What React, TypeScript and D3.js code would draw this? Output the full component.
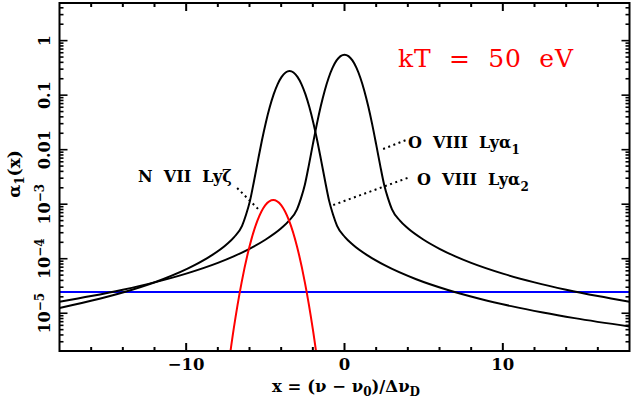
import React from "react";
import * as d3 from "d3";

// ---- data ----
const X_DOMAIN: [number, number] = [-18, 18];
const Y_DOMAIN: [number, number] = [2.03e-6, 4.9];

const xTickLabels = [-10, 0, 10];
const yDecadeValues = [1, 0.1, 0.01, 1e-3, 1e-4, 1e-5];
const yDecadeBase = ["1", "0.1", "0.01", "10", "10", "10"];
const yDecadeExp = ["", "", "", "−3", "−4", "−5"];

// O VIII Ly alpha 1
const lya1X = [-18, -16, -14, -12, -10, -8, -7, -6, -5, -4, -3.5, -3, -2.75, -2.5, -2.25, -2, -1.75, -1.5, -1.25, -1, -0.75, -0.5, -0.25, 0,
  0.25, 0.5, 0.75, 1, 1.25, 1.5, 1.75, 2, 2.25, 2.5, 2.75, 3, 3.5, 4, 5, 6, 7, 8, 10, 12, 14, 16, 18];
const lya1Y = [1.628e-5, 2.064e-5, 2.7e-5, 3.685e-5, 5.33e-5, 8.39e-5, 1.105e-4, 1.52e-4, 2.227e-4, 3.61e-4, 4.99e-4, 8.03e-4, 1.281e-3, 2.302e-3, 5.22e-3, 1.2489e-2, 2.9104e-2, 6.245e-2, 0.12076, 0.2084, 0.3192, 0.4333, 0.5208, 0.5537,
  0.5208, 0.4333, 0.3192, 0.2084, 0.12076, 6.245e-2, 2.9104e-2, 1.2489e-2, 5.22e-3, 2.302e-3, 1.281e-3, 8.03e-4, 4.99e-4, 3.61e-4, 2.227e-4, 1.52e-4, 1.105e-4, 8.39e-5, 5.33e-5, 3.685e-5, 2.7e-5, 2.064e-5, 1.628e-5];

// O VIII Ly alpha 2
const lya2X = [-18, -15.47, -13.47, -11.47, -9.47, -8.47, -7.47, -6.97, -6.47, -6.22, -5.97, -5.72, -5.47, -5.22, -4.97, -4.72, -4.47, -4.22, -3.97, -3.72, -3.47,
  -3.22, -2.97, -2.72, -2.47, -2.22, -1.97, -1.72, -1.47, -1.22, -0.97, -0.72, -0.47, 0.03, 0.53, 1.53, 2.53, 4.53, 6.53, 8.53, 10.53, 12.53, 14.53, 18];
const lya2Y = [1.253e-5, 1.843e-5, 2.665e-5, 4.195e-5, 7.6e-5, 1.114e-4, 1.805e-4, 2.495e-4, 4.015e-4, 6.405e-4, 1.151e-3, 2.61e-3, 6.245e-3, 1.4552e-2, 3.1225e-2, 6.038e-2, 0.1042, 0.1596, 0.21665, 0.2604, 0.27685,
  0.2604, 0.21665, 0.1596, 0.1042, 6.038e-2, 3.1225e-2, 1.4552e-2, 6.245e-3, 2.61e-3, 1.151e-3, 6.405e-4, 4.015e-4, 2.495e-4, 1.805e-4, 1.114e-4, 7.6e-5, 4.195e-5, 2.665e-5, 1.843e-5, 1.35e-5, 1.032e-5, 8.14e-6, 5.72e-6];

// N VII Ly zeta
const lyzX = [-7.5, -7, -6.5, -6, -5.5, -5, -4.5, -4, -3.5, -3, -2.5, -2, -1.5];
const lyzY = [4.6e-7, 5.11e-6, 3.65e-5, 1.682e-4, 5.01e-4, 9.65e-4, 1.2e-3, 9.65e-4, 5.01e-4, 1.682e-4, 3.65e-5, 5.11e-6, 4.6e-7];

// horizontal blue level
const levelX = [-18, 18];
const levelY = [2.45e-5, 2.45e-5];

// leader lines (data coords): [x0, y0, x1, y1]
const leaderLyz = [-6.78, 1.98e-3, -5.39, 7.83e-4];
const leaderLya1 = [2.44, 1.03e-2, 3.9, 1.51e-2];
const leaderLya2 = [-0.71, 9.66e-4, 4.15, 3.16e-3];

const FONT = "'DejaVu Serif', serif";

export default function App() {
  const left = 59.5, right = 629.5, top = 3, bottom = 351;
  const x = d3.scaleLinear().domain(X_DOMAIN).range([left, right]);
  const y = d3.scaleLog().domain(Y_DOMAIN).range([bottom, top]);

  const line = d3
    .line<[number, number]>()
    .x((d) => x(d[0]))
    .y((d) => y(d[1]))
    .curve(d3.curveMonotoneX);

  const zip = (a: number[], b: number[]) => a.map((v, i) => [v, b[i]] as [number, number]);

  const xTicks = d3.range(-16, 17, 2);
  const yTicks: number[] = [];
  for (let e = -6; e <= 0; e++) {
    for (let m = 1; m <= 9; m++) {
      const v = m * Math.pow(10, e);
      if (v > Y_DOMAIN[0] && v < Y_DOMAIN[1]) yTicks.push(v);
    }
  }
  const isDecade = (v: number) => Math.abs(Math.log10(v) - Math.round(Math.log10(v))) < 1e-9;

  const leader = (l: number[]) => (
    <line x1={x(l[0])} y1={y(l[1])} x2={x(l[2])} y2={y(l[3])} stroke="#000" strokeWidth={2} strokeDasharray="2 3.5" />
  );

  return (
    <svg width={632} height={401} style={{ position: "absolute", left: 0, top: 0 }} fontFamily={FONT}>
      <rect width={632} height={401} fill="#fff" />
      <defs>
        <clipPath id="plotClip">
          <rect x={left} y={top} width={right - left} height={bottom - top} />
        </clipPath>
      </defs>

      {/* ticks */}
      {xTicks.map((t) => {
        const len = t % 10 === 0 ? 8 : 4;
        return (
          <g key={"xt" + t} stroke="#000" strokeWidth={2}>
            <line x1={x(t)} x2={x(t)} y1={bottom} y2={bottom - len} />
            <line x1={x(t)} x2={x(t)} y1={top} y2={top + len} />
          </g>
        );
      })}
      {yTicks.map((t, i) => {
        const len = isDecade(t) ? 8 : 4;
        return (
          <g key={"yt" + i} stroke="#000" strokeWidth={1.6}>
            <line x1={left} x2={left + len} y1={y(t)} y2={y(t)} />
            <line x1={right} x2={right - len} y1={y(t)} y2={y(t)} />
          </g>
        );
      })}

      {/* curves */}
      <g clipPath="url(#plotClip)" fill="none" strokeWidth={2}>
        <path d={line(zip(levelX, levelY)) || ""} stroke="#0000ff" />
        <path d={line(zip(lya1X, lya1Y)) || ""} stroke="#000" />
        <path d={line(zip(lya2X, lya2Y)) || ""} stroke="#000" />
        <path d={line(zip(lyzX, lyzY)) || ""} stroke="#ff0000" />
      </g>

      {/* frame */}
      <rect x={left} y={top} width={right - left} height={bottom - top} fill="none" stroke="#000" strokeWidth={2} />

      {/* leaders */}
      {leader(leaderLyz)}
      {leader(leaderLya1)}
      {leader(leaderLya2)}

      {/* x tick labels */}
      {xTickLabels.map((t) => (
        <text key={"xl" + t} x={x(t)} y={370} textAnchor="middle" fontSize={16.5} fontWeight="bold">
          {t < 0 ? "−" + Math.abs(t) : String(t)}
        </text>
      ))}

      {/* y tick labels */}
      {yDecadeValues.map((v, i) => (
        <text key={"yl" + i} transform={`translate(50,${y(v)}) rotate(-90)`} textAnchor="middle" fontSize={16} fontWeight="bold">
          {yDecadeBase[i]}
          {yDecadeExp[i] ? (
            <tspan dy={-6} fontSize={12}>
              {yDecadeExp[i]}
            </tspan>
          ) : null}
        </text>
      ))}

      {/* axis titles */}
      <text x={346} y={392} textAnchor="middle" fontSize={16.5} fontWeight="bold">
        x = (ν − ν<tspan dy={4} fontSize={12}>0</tspan>
        <tspan dy={-4}>)/Δν</tspan>
        <tspan dy={4} fontSize={12}>D</tspan>
      </text>
      <text transform="translate(20,174) rotate(-90)" textAnchor="middle" fontSize={17} fontWeight="bold">
        α<tspan dy={4} fontSize={12}>1</tspan>
        <tspan dy={-4}>(x)</tspan>
      </text>

      {/* annotations */}
      <text x={398} y={67} fontSize={25} fill="#ff0000" textLength={175} lengthAdjust="spacing" style={{ whiteSpace: "pre" }}>
        kT  =  50  eV
      </text>
      <text x={138} y={182} fontSize={16} fontWeight="bold" style={{ whiteSpace: "pre" }}>
        N  VII  Lyζ
      </text>
      <text x={408} y={148} fontSize={16} fontWeight="bold" style={{ whiteSpace: "pre" }}>
        O  VIII  Lyα<tspan dy={6} fontSize={12}>1</tspan>
      </text>
      <text x={417} y={185} fontSize={16} fontWeight="bold" style={{ whiteSpace: "pre" }}>
        O  VIII  Lyα<tspan dy={6} fontSize={12}>2</tspan>
      </text>
    </svg>
  );
}
